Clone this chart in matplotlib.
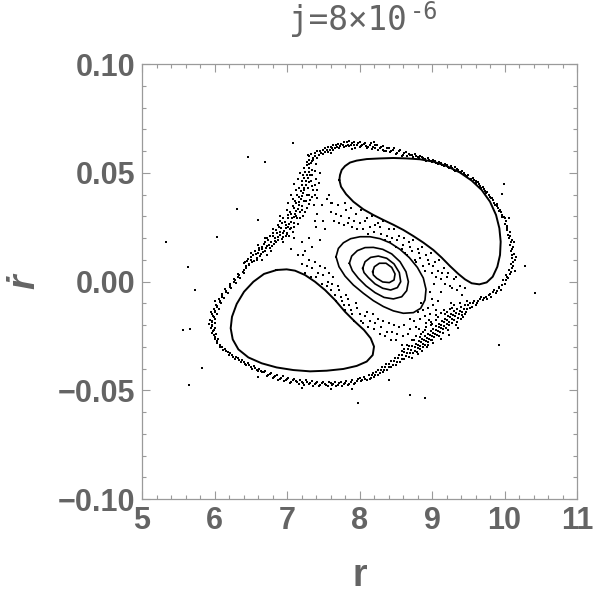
import matplotlib
matplotlib.use('Agg')
import matplotlib.pyplot as plt
from matplotlib.ticker import MultipleLocator, FuncFormatter

GRAY = '#646464'
plt.rcParams['font.family'] = ['Liberation Sans', 'DejaVu Sans']

# --- invariant curves ---
island_up_x = [7.722, 7.731, 7.754, 7.800, 7.869, 7.961, 8.099, 8.283, 8.467, 8.651, 8.835, 9.018, 9.202, 9.386,
               9.547, 9.685, 9.800, 9.883, 9.929, 9.947, 9.938, 9.901, 9.837, 9.754, 9.653, 9.547, 9.455, 9.363,
               9.248, 9.133, 9.018, 8.880, 8.743, 8.605, 8.467, 8.329, 8.191, 8.053, 7.915, 7.814, 7.745, 7.722]
island_up_y = [0.0467, 0.0490, 0.0513, 0.0531, 0.0547, 0.0556, 0.0563, 0.0566, 0.0568, 0.0566, 0.0562, 0.0551,
               0.0531, 0.0501, 0.0464, 0.0421, 0.0367, 0.0306, 0.0245, 0.0183, 0.0122, 0.0068, 0.0022, -0.0004,
               -0.0013, -0.0008, 0.0010, 0.0035, 0.0071, 0.0110, 0.0145, 0.0179, 0.0209, 0.0237, 0.0261, 0.0283,
               0.0306, 0.0332, 0.0367, 0.0402, 0.0436, 0.0467]

island_lo_x = [6.857, 6.995, 7.110, 7.248, 7.386, 7.524, 7.662, 7.800, 7.938, 8.062, 8.154, 8.200, 8.182, 8.099,
               7.961, 7.777, 7.547, 7.317, 7.087, 6.857, 6.651, 6.467, 6.329, 6.251, 6.223, 6.241, 6.306, 6.407,
               6.536, 6.683, 6.857]
island_lo_y = [0.0053, 0.0056, 0.0050, 0.0030, -0.0001, -0.0039, -0.0085, -0.0139, -0.0185, -0.0223, -0.0261,
               -0.0299, -0.0338, -0.0368, -0.0388, -0.0402, -0.0410, -0.0413, -0.0407, -0.0395, -0.0376, -0.0349,
               -0.0312, -0.0266, -0.0215, -0.0162, -0.0103, -0.0047, -0.0001, 0.0035, 0.0053]

ring1_x = [7.676, 7.708, 7.777, 7.878, 8.007, 8.145, 8.283, 8.421, 8.559, 8.687, 8.798, 8.880, 8.917, 8.903,
           8.844, 8.743, 8.605, 8.467, 8.329, 8.191, 8.053, 7.915, 7.800, 7.717, 7.676]
ring1_y = [0.0114, 0.0152, 0.0178, 0.0197, 0.0206, 0.0206, 0.0197, 0.0178, 0.0148, 0.0110, 0.0065, 0.0016,
           -0.0036, -0.0085, -0.0123, -0.0143, -0.0146, -0.0135, -0.0115, -0.0088, -0.0054, -0.0016, 0.0025,
           0.0068, 0.0114]
ring2_x = [7.860, 7.892, 7.970, 8.076, 8.191, 8.320, 8.444, 8.559, 8.641, 8.674, 8.651, 8.582, 8.467, 8.338,
           8.214, 8.090, 7.984, 7.901, 7.860]
ring2_y = [0.0084, 0.0117, 0.0142, 0.0156, 0.0157, 0.0148, 0.0127, 0.0091, 0.0045, -0.0001, -0.0042, -0.0070,
           -0.0080, -0.0073, -0.0051, -0.0020, 0.0015, 0.0050, 0.0084]
ring3_x = [8.044, 8.076, 8.154, 8.260, 8.375, 8.476, 8.549, 8.568, 8.522, 8.430, 8.320, 8.214, 8.122, 8.062, 8.044]
ring3_y = [0.0061, 0.0091, 0.0111, 0.0117, 0.0107, 0.0081, 0.0041, -0.0001, -0.0028, -0.0039, -0.0031, -0.0011,
           0.0018, 0.0041, 0.0061]
ring4_x = [8.182, 8.205, 8.274, 8.366, 8.444, 8.490, 8.476, 8.411, 8.320, 8.237, 8.191, 8.182]
ring4_y = [0.0045, 0.0068, 0.0084, 0.0084, 0.0065, 0.0035, 0.0007, -0.0005, -0.0002, 0.0015, 0.0030, 0.0045]

# --- chaotic sea points ---
sea_top = [(7.30, 0.0575), (7.34, 0.0552), (7.38, 0.0590), (7.42, 0.0570), (7.46, 0.0601), (7.50, 0.0585),
           (7.53, 0.0612), (7.57, 0.0597), (7.61, 0.0620), (7.64, 0.0604), (7.68, 0.0626), (7.72, 0.0612),
           (7.75, 0.0633), (7.79, 0.0618), (7.83, 0.0640), (7.86, 0.0622), (7.90, 0.0635), (7.94, 0.0615),
           (7.98, 0.0638), (8.02, 0.0625), (8.06, 0.0632), (8.10, 0.0612), (8.14, 0.0630), (8.18, 0.0618),
           (8.22, 0.0626), (8.26, 0.0605), (8.30, 0.0620), (8.34, 0.0600), (8.38, 0.0612), (8.42, 0.0595),
           (8.46, 0.0605), (8.50, 0.0585), (8.54, 0.0598), (8.58, 0.0578), (8.62, 0.0590), (8.66, 0.0575),
           (8.70, 0.0582), (8.74, 0.0572), (8.78, 0.0578), (8.82, 0.0568), (8.86, 0.0572), (8.90, 0.0562),
           (8.94, 0.0566), (8.98, 0.0555), (9.02, 0.0560), (9.06, 0.0546), (9.10, 0.0550), (9.14, 0.0536),
           (9.18, 0.0541), (9.22, 0.0526), (9.26, 0.0530), (9.30, 0.0515), (9.34, 0.0519), (9.38, 0.0503),
           (9.42, 0.0506), (9.46, 0.0490), (9.50, 0.0492), (7.60, 0.0590), (7.90, 0.0608), (8.20, 0.0640),
           (7.31, 0.0561), (7.33, 0.0588), (7.36, 0.0570), (7.39, 0.0578), (7.41, 0.0598), (7.44, 0.0582),
           (7.47, 0.0590), (7.49, 0.0607), (7.52, 0.0594), (7.55, 0.0603), (7.56, 0.0618), (7.59, 0.0606),
           (7.62, 0.0612), (7.63, 0.0629), (7.66, 0.0615), (7.69, 0.0619), (7.71, 0.0634), (7.73, 0.0622),
           (7.77, 0.0627), (7.78, 0.0641), (7.81, 0.0624), (7.84, 0.0630), (7.85, 0.0646), (7.88, 0.0628),
           (7.92, 0.0642), (7.93, 0.0626), (7.96, 0.0630), (8.00, 0.0640), (8.01, 0.0617), (8.04, 0.0628),
           (8.08, 0.0638), (8.09, 0.0622), (8.12, 0.0620), (8.16, 0.0636), (8.17, 0.0610), (8.21, 0.0616),
           (8.24, 0.0630), (8.28, 0.0612), (8.32, 0.0625), (8.33, 0.0606), (8.36, 0.0598), (8.40, 0.0616),
           (8.44, 0.0600), (8.48, 0.0612), (8.52, 0.0592), (8.56, 0.0604), (8.60, 0.0583), (8.64, 0.0595),
           (8.68, 0.0588), (8.72, 0.0580), (8.76, 0.0585), (8.80, 0.0574), (8.84, 0.0578), (8.88, 0.0570),
           (8.92, 0.0556), (8.96, 0.0560), (9.00, 0.0548), (9.04, 0.0554), (9.08, 0.0541), (9.12, 0.0546),
           (9.16, 0.0532), (9.20, 0.0535), (9.24, 0.0522), (9.28, 0.0524), (9.32, 0.0510), (9.36, 0.0512),
           (9.40, 0.0500), (9.44, 0.0498), (9.48, 0.0486)]
sea_right = [(9.54, 0.0470), (9.58, 0.0468), (9.61, 0.0454), (9.65, 0.0450), (9.68, 0.0432), (9.72, 0.0425),
             (9.75, 0.0405), (9.78, 0.0400), (9.81, 0.0382), (9.84, 0.0374), (9.87, 0.0352), (9.90, 0.0347),
             (9.92, 0.0326), (9.95, 0.0320), (9.97, 0.0296), (10.00, 0.0290), (10.01, 0.0266), (10.04, 0.0256),
             (10.04, 0.0236), (10.07, 0.0226), (10.06, 0.0200), (10.10, 0.0190), (10.08, 0.0170), (10.12, 0.0160),
             (10.09, 0.0140), (10.13, 0.0128), (10.10, 0.0110), (10.14, 0.0098), (10.09, 0.0082), (10.12, 0.0070),
             (10.06, 0.0055), (10.09, 0.0042), (10.02, 0.0030), (10.05, 0.0015), (9.98, 0.0005), (10.00, -0.0010),
             (9.92, -0.0025), (9.95, -0.0038), (9.86, -0.0040), (9.88, -0.0055), (9.80, -0.0058), (9.82, -0.0070),
             (9.74, -0.0072), (9.70, -0.0085), (9.56, 0.0478), (9.60, 0.0460), (9.63, 0.0457), (9.66, 0.0440),
             (9.70, 0.0436), (9.73, 0.0414), (9.76, 0.0410), (9.80, 0.0390), (9.83, 0.0384), (9.86, 0.0362),
             (9.89, 0.0356), (9.91, 0.0336), (9.94, 0.0330), (9.96, 0.0306), (9.99, 0.0298), (10.02, 0.0276),
             (10.03, 0.0244), (10.05, 0.0212), (10.08, 0.0208), (10.09, 0.0182), (10.11, 0.0150), (10.11, 0.0120),
             (10.12, 0.0088), (10.10, 0.0060), (10.07, 0.0036), (10.04, 0.0022), (10.02, 0.0008), (9.97, -0.0016),
             (9.93, -0.0030), (9.90, -0.0044), (9.84, -0.0050), (9.78, -0.0064), (9.76, -0.0080), (9.72, -0.0078),
             (10.16, 0.0115), (10.15, 0.0050), (10.13, 0.0180), (10.06, 0.0290)]
sea_lower_right = [(9.66, -0.0080), (9.62, -0.0100), (9.58, -0.0088), (9.55, -0.0115), (9.52, -0.0100),
                   (9.48, -0.0128), (9.45, -0.0110), (9.42, -0.0140), (9.40, -0.0118), (9.37, -0.0150),
                   (9.35, -0.0125), (9.32, -0.0160), (9.30, -0.0135), (9.28, -0.0172), (9.26, -0.0148),
                   (9.24, -0.0185), (9.22, -0.0158), (9.20, -0.0195), (9.18, -0.0170), (9.16, -0.0205),
                   (9.14, -0.0182), (9.12, -0.0215), (9.10, -0.0195), (9.08, -0.0228), (9.06, -0.0205),
                   (9.04, -0.0240), (9.02, -0.0218), (9.00, -0.0250), (8.98, -0.0228), (8.96, -0.0262),
                   (8.94, -0.0240), (8.92, -0.0272), (8.90, -0.0250), (8.88, -0.0285), (8.86, -0.0262),
                   (8.84, -0.0295), (8.82, -0.0275), (8.80, -0.0305), (8.78, -0.0285), (8.76, -0.0318),
                   (8.73, -0.0298), (8.70, -0.0330), (8.67, -0.0312), (8.64, -0.0342), (8.61, -0.0325),
                   (8.58, -0.0355), (8.55, -0.0338), (8.52, -0.0368), (8.49, -0.0352), (8.46, -0.0382),
                   (8.43, -0.0365), (8.40, -0.0395), (8.37, -0.0380), (8.34, -0.0408), (8.31, -0.0395),
                   (8.28, -0.0420), (8.25, -0.0408), (8.22, -0.0432), (8.19, -0.0420), (8.16, -0.0442),
                   (8.13, -0.0430), (9.35, -0.0185), (9.25, -0.0125), (9.15, -0.0235), (9.05, -0.0175),
                   (8.95, -0.0290), (8.90, -0.0225), (9.30, -0.0110), (9.10, -0.0250), (8.98, -0.0200),
                   (9.20, -0.0140), (8.85, -0.0240), (9.40, -0.0170), (8.75, -0.0270), (9.00, -0.0270),
                   (9.45, -0.0150), (9.68, -0.0070), (9.64, -0.0088), (9.60, -0.0110), (9.57, -0.0098),
                   (9.53, -0.0122), (9.50, -0.0110), (9.47, -0.0140), (9.44, -0.0125), (9.41, -0.0155),
                   (9.38, -0.0135), (9.36, -0.0168), (9.33, -0.0145), (9.31, -0.0178), (9.29, -0.0155),
                   (9.27, -0.0190), (9.25, -0.0165), (9.23, -0.0200), (9.21, -0.0175), (9.19, -0.0212),
                   (9.17, -0.0188), (9.15, -0.0220), (9.13, -0.0198), (9.11, -0.0232), (9.09, -0.0210),
                   (9.07, -0.0245), (9.05, -0.0222), (9.03, -0.0255), (9.01, -0.0235), (8.99, -0.0268),
                   (8.97, -0.0245), (8.95, -0.0278), (8.93, -0.0258), (8.91, -0.0290), (8.89, -0.0268),
                   (8.87, -0.0300), (8.85, -0.0280), (8.83, -0.0312), (8.81, -0.0290), (8.79, -0.0322),
                   (8.77, -0.0300), (8.74, -0.0330), (8.71, -0.0315), (8.68, -0.0345), (8.65, -0.0328),
                   (8.62, -0.0358), (8.59, -0.0340), (8.56, -0.0370), (8.53, -0.0352), (8.50, -0.0382),
                   (8.47, -0.0366), (8.44, -0.0394), (8.41, -0.0378), (8.38, -0.0406), (8.35, -0.0392),
                   (8.32, -0.0418), (8.29, -0.0405), (8.26, -0.0428), (8.23, -0.0418), (8.20, -0.0440),
                   (8.17, -0.0430), (8.14, -0.0448), (9.38, -0.0100), (9.33, -0.0200), (9.28, -0.0120),
                   (9.22, -0.0225), (9.18, -0.0150), (9.12, -0.0262), (9.08, -0.0165), (9.02, -0.0282),
                   (8.98, -0.0185), (8.93, -0.0302), (8.92, -0.0210), (8.86, -0.0318), (8.87, -0.0230),
                   (8.80, -0.0335), (8.83, -0.0255), (8.72, -0.0350), (9.26, -0.0100), (9.16, -0.0130),
                   (9.06, -0.0155), (8.96, -0.0175), (9.48, -0.0090), (9.43, -0.0165), (9.36, -0.0215),
                   (9.24, -0.0245), (9.12, -0.0145), (9.00, -0.0195), (8.78, -0.0250), (8.68, -0.0295),
                   (8.62, -0.0310), (8.58, -0.0320)]
sea_bottom = [(8.10, -0.0452), (8.06, -0.0440), (8.02, -0.0458), (7.98, -0.0448), (7.94, -0.0465), (7.90, -0.0452),
              (7.86, -0.0470), (7.82, -0.0458), (7.78, -0.0472), (7.74, -0.0460), (7.70, -0.0475), (7.66, -0.0462),
              (7.62, -0.0476), (7.58, -0.0460), (7.54, -0.0474), (7.50, -0.0462), (7.46, -0.0476), (7.42, -0.0460),
              (7.38, -0.0472), (7.34, -0.0458), (7.30, -0.0470), (7.26, -0.0455), (7.22, -0.0468), (7.18, -0.0452),
              (7.14, -0.0464), (7.10, -0.0448), (7.06, -0.0460), (7.02, -0.0442), (6.98, -0.0452), (6.94, -0.0436),
              (6.90, -0.0446), (6.86, -0.0428), (6.82, -0.0438), (6.78, -0.0420), (6.74, -0.0428), (6.70, -0.0410),
              (6.66, -0.0418), (6.62, -0.0400), (6.58, -0.0405), (6.54, -0.0388), (6.50, -0.0392), (6.46, -0.0375),
              (6.42, -0.0378), (6.38, -0.0360), (6.34, -0.0362), (6.30, -0.0345), (6.26, -0.0345), (6.22, -0.0328),
              (6.18, -0.0325), (6.14, -0.0308), (6.11, -0.0300), (8.08, -0.0447), (8.04, -0.0452), (8.00, -0.0445),
              (7.96, -0.0458), (7.92, -0.0470), (7.88, -0.0462), (7.84, -0.0475), (7.80, -0.0465), (7.76, -0.0480),
              (7.72, -0.0468), (7.68, -0.0482), (7.64, -0.0470), (7.60, -0.0465), (7.56, -0.0481), (7.52, -0.0470),
              (7.48, -0.0468), (7.44, -0.0482), (7.40, -0.0468), (7.36, -0.0480), (7.32, -0.0465), (7.28, -0.0462),
              (7.24, -0.0476), (7.20, -0.0460), (7.16, -0.0472), (7.12, -0.0456), (7.08, -0.0452), (7.04, -0.0466),
              (7.00, -0.0448), (6.96, -0.0458), (6.92, -0.0442), (6.88, -0.0452), (6.84, -0.0434), (6.80, -0.0445),
              (6.76, -0.0426), (6.72, -0.0435), (6.68, -0.0416), (6.64, -0.0410), (6.60, -0.0412), (6.56, -0.0396),
              (6.52, -0.0400), (6.48, -0.0384), (6.44, -0.0386), (6.40, -0.0368), (6.36, -0.0370), (6.32, -0.0352),
              (6.28, -0.0355), (6.24, -0.0336), (6.20, -0.0336), (6.16, -0.0318), (6.12, -0.0315), (7.60, -0.0495),
              (7.20, -0.0490), (6.60, -0.0440), (7.90, -0.0492), (8.40, -0.0455)]
sea_left = [(6.08, -0.0290), (6.04, -0.0282), (6.05, -0.0265), (6.00, -0.0255), (6.02, -0.0240), (5.98, -0.0228),
            (6.01, -0.0215), (5.97, -0.0205), (6.01, -0.0192), (5.97, -0.0182), (6.01, -0.0170), (5.98, -0.0158),
            (6.03, -0.0148), (6.00, -0.0135), (6.06, -0.0125), (6.03, -0.0112), (6.09, -0.0100), (6.07, -0.0088),
            (6.13, -0.0078), (6.11, -0.0065), (6.18, -0.0055), (6.16, -0.0042), (6.23, -0.0032), (6.22, -0.0018),
            (6.29, -0.0008), (6.28, 0.0005), (6.35, 0.0015), (6.34, 0.0028), (6.41, 0.0038), (6.40, 0.0052),
            (6.07, -0.0300), (6.03, -0.0272), (6.01, -0.0262), (5.99, -0.0245), (5.96, -0.0236), (5.99, -0.0222),
            (5.95, -0.0212), (5.97, -0.0198), (5.96, -0.0188), (5.94, -0.0175), (5.99, -0.0162), (5.96, -0.0150),
            (6.01, -0.0140), (5.99, -0.0128), (6.04, -0.0118), (6.02, -0.0106), (6.07, -0.0094), (6.06, -0.0080),
            (6.11, -0.0070), (6.10, -0.0058), (6.16, -0.0048), (6.15, -0.0035), (6.21, -0.0025), (6.21, -0.0010),
            (6.27, 0.0000), (6.27, 0.0012), (6.33, 0.0022), (6.33, 0.0035), (6.39, 0.0045), (6.43, 0.0060),
            (5.93, -0.0195), (5.95, -0.0140), (6.00, -0.0090)]
sea_upper_left = [(6.44, 0.0070), (6.42, 0.0090), (6.48, 0.0082), (6.50, 0.0100), (6.46, 0.0105), (6.55, 0.0095),
                  (6.53, 0.0120), (6.58, 0.0110), (6.60, 0.0132), (6.56, 0.0140), (6.64, 0.0125), (6.66, 0.0148),
                  (6.62, 0.0155), (6.70, 0.0140), (6.72, 0.0165), (6.68, 0.0172), (6.76, 0.0155), (6.78, 0.0180),
                  (6.74, 0.0190), (6.82, 0.0172), (6.84, 0.0198), (6.80, 0.0208), (6.88, 0.0190), (6.90, 0.0215),
                  (6.86, 0.0225), (6.94, 0.0205), (6.96, 0.0232), (6.92, 0.0245), (7.00, 0.0225), (7.02, 0.0252),
                  (6.98, 0.0262), (7.06, 0.0248), (7.05, 0.0275), (7.02, 0.0290), (7.10, 0.0268), (7.09, 0.0298),
                  (7.06, 0.0312), (7.14, 0.0292), (7.13, 0.0322), (7.10, 0.0338), (7.18, 0.0320), (7.16, 0.0350),
                  (7.13, 0.0362), (7.21, 0.0345), (7.19, 0.0378), (7.16, 0.0390), (7.24, 0.0372), (7.22, 0.0405),
                  (7.19, 0.0418), (7.27, 0.0400), (7.24, 0.0432), (7.21, 0.0445), (7.29, 0.0430), (7.26, 0.0462),
                  (7.23, 0.0475), (7.31, 0.0458), (7.28, 0.0490), (7.25, 0.0502), (7.32, 0.0488), (7.30, 0.0520),
                  (7.27, 0.0535), (7.34, 0.0515), (7.33, 0.0545), (7.35, 0.0440), (7.38, 0.0400), (7.32, 0.0375),
                  (7.28, 0.0340), (7.22, 0.0300), (7.15, 0.0265), (7.08, 0.0230), (7.40, 0.0470), (7.37, 0.0350),
                  (7.42, 0.0420), (7.12, 0.0420), (7.08, 0.0380), (7.00, 0.0330), (6.95, 0.0290), (6.88, 0.0260),
                  (6.40, 0.0085), (6.45, 0.0095), (6.47, 0.0075), (6.51, 0.0112), (6.52, 0.0088), (6.57, 0.0125),
                  (6.59, 0.0100), (6.61, 0.0145), (6.63, 0.0118), (6.65, 0.0160), (6.67, 0.0135), (6.69, 0.0180),
                  (6.71, 0.0152), (6.73, 0.0200), (6.75, 0.0170), (6.77, 0.0210), (6.79, 0.0165), (6.81, 0.0222),
                  (6.83, 0.0185), (6.85, 0.0235), (6.87, 0.0205), (6.89, 0.0250), (6.91, 0.0228), (6.93, 0.0268),
                  (6.95, 0.0222), (6.97, 0.0275), (6.99, 0.0245), (7.01, 0.0305), (7.03, 0.0265), (7.04, 0.0320),
                  (7.07, 0.0290), (7.08, 0.0345), (7.11, 0.0310), (7.11, 0.0372), (7.15, 0.0335), (7.14, 0.0400),
                  (7.17, 0.0365), (7.17, 0.0430), (7.20, 0.0392), (7.20, 0.0460), (7.23, 0.0420), (7.22, 0.0490),
                  (7.26, 0.0445), (7.24, 0.0520), (7.29, 0.0475), (7.27, 0.0550), (7.31, 0.0505), (7.30, 0.0540),
                  (7.35, 0.0490), (7.33, 0.0460), (7.36, 0.0420), (7.34, 0.0390), (7.30, 0.0400), (7.31, 0.0355),
                  (7.26, 0.0370), (7.25, 0.0320), (7.20, 0.0330), (7.18, 0.0290), (7.12, 0.0300), (7.10, 0.0250),
                  (7.04, 0.0240), (7.03, 0.0210), (6.98, 0.0210), (6.93, 0.0195), (6.85, 0.0180), (6.78, 0.0140),
                  (6.72, 0.0120), (6.65, 0.0100), (7.39, 0.0445), (7.41, 0.0385), (7.44, 0.0455), (7.45, 0.0500),
                  (7.38, 0.0510), (7.40, 0.0540), (7.36, 0.0560), (7.29, 0.0580), (7.18, 0.0500), (7.15, 0.0470),
                  (7.10, 0.0450), (7.05, 0.0400), (7.02, 0.0360), (6.90, 0.0280), (6.80, 0.0240), (6.70, 0.0200),
                  (6.60, 0.0170), (6.50, 0.0130)]
sea_inner = [(7.60, 0.032), (7.65, 0.028), (7.70, 0.035), (7.75, 0.030), (7.78, 0.026), (7.82, 0.033), (7.86, 0.029),
             (7.90, 0.025), (7.95, 0.031), (8.00, 0.027), (8.05, 0.024), (8.10, 0.029), (8.15, 0.025), (8.20, 0.023),
             (8.25, 0.027), (8.30, 0.022), (8.35, 0.019), (8.40, 0.024), (8.45, 0.020), (8.50, 0.016), (8.55, 0.021),
             (8.60, 0.017), (8.63, 0.013), (8.68, 0.018), (8.72, 0.014), (8.76, 0.010), (8.80, 0.015), (8.84, 0.011),
             (8.88, 0.007), (8.92, 0.012), (8.96, 0.008), (9.00, 0.004), (9.04, 0.009), (9.08, 0.005), (9.12, 0.001),
             (9.16, 0.006), (9.20, 0.002), (9.25, -0.002), (9.30, 0.001), (9.35, -0.004),
             (7.20, 0.008), (7.25, 0.004), (7.30, 0.010), (7.35, 0.006), (7.40, 0.002), (7.45, 0.007), (7.50, 0.003),
             (7.55, -0.002), (7.58, 0.004), (7.62, -0.001), (7.66, -0.006), (7.70, -0.002), (7.74, -0.007),
             (7.78, -0.011), (7.82, -0.006), (7.86, -0.011), (7.90, -0.015), (7.95, -0.010), (8.00, -0.015),
             (8.05, -0.019), (8.10, -0.014), (8.15, -0.018), (8.20, -0.022), (8.25, -0.017), (8.30, -0.021),
             (8.35, -0.025), (8.40, -0.019), (8.45, -0.023), (8.50, -0.027), (8.55, -0.021), (8.60, -0.025),
             (8.65, -0.029), (8.70, -0.022), (8.75, -0.018), (8.80, -0.014), (8.85, -0.010), (8.90, -0.016),
             (8.95, -0.012), (9.00, -0.008), (9.05, -0.013), (8.82, -0.022), (8.70, -0.017),
             (6.90, 0.030), (6.95, 0.018), (7.00, 0.022), (7.05, 0.015), (7.10, 0.020), (7.15, 0.012), (7.20, 0.018),
             (7.25, 0.014), (7.30, 0.020), (7.35, 0.016), (7.40, 0.025), (7.45, 0.019), (7.50, 0.028), (7.42, 0.031),
             (7.48, 0.035), (7.55, 0.038), (7.52, 0.024), (7.58, 0.040), (7.38, 0.028), (7.60, 0.036),
             (7.62, 0.036), (7.68, 0.031), (7.72, 0.027), (7.80, 0.036), (7.84, 0.027), (7.88, 0.034), (7.93, 0.028),
             (7.97, 0.024), (8.02, 0.033), (8.07, 0.028), (8.12, 0.022), (8.17, 0.030), (8.22, 0.026), (8.28, 0.025),
             (8.32, 0.028), (8.38, 0.021), (8.42, 0.018), (8.47, 0.024), (8.52, 0.019), (8.58, 0.015), (8.62, 0.020),
             (8.66, 0.012), (8.70, 0.016), (8.74, 0.019), (8.78, 0.009), (8.82, 0.013), (8.86, 0.016), (8.90, 0.005),
             (8.94, 0.010), (8.98, 0.013), (9.02, 0.007), (9.06, 0.002), (9.10, 0.010), (9.14, 0.004), (9.18, -0.001),
             (9.22, 0.004), (9.28, -0.003), (9.33, 0.002), (9.38, -0.002), (9.42, -0.006), (9.46, -0.003),
             (7.22, 0.012), (7.28, 0.007), (7.33, 0.002), (7.38, 0.009), (7.43, 0.004), (7.48, -0.001), (7.52, 0.006),
             (7.57, 0.000), (7.60, -0.004), (7.64, 0.002), (7.68, -0.009), (7.72, -0.004), (7.76, -0.009),
             (7.80, -0.013), (7.84, -0.008), (7.88, -0.013), (7.92, -0.018), (7.97, -0.012), (8.02, -0.018),
             (8.07, -0.016), (8.12, -0.021), (8.18, -0.015), (8.22, -0.019), (8.28, -0.024), (8.32, -0.018),
             (8.38, -0.023), (8.43, -0.027), (8.48, -0.020), (8.52, -0.024), (8.58, -0.029), (8.62, -0.020),
             (8.67, -0.024), (8.72, -0.027), (8.78, -0.021), (8.83, -0.017), (8.88, -0.013), (8.92, -0.019),
             (8.97, -0.015), (9.02, -0.011), (9.08, -0.009), (9.12, -0.005), (8.97, -0.005), (9.03, -0.001)]
sea_stray = [(7.078, 0.0638), (6.467, 0.0574), (6.697, 0.0551), (6.306, 0.0333), (6.039, 0.0206), (5.331, 0.0183),
             (5.639, 0.0068), (5.731, -0.0039), (5.570, -0.0223), (5.662, -0.0220), (5.823, -0.0399),
             (5.653, -0.0476), (7.984, -0.0557), (8.697, -0.0522), (8.903, -0.0537), (9.929, -0.0292),
             (10.421, -0.0054), (10.283, 0.0071), (9.993, 0.0448), (9.961, 0.0402), (9.317, 0.0528), (6.605, 0.0283)]

x_ticks = [5, 6, 7, 8, 9, 10, 11]
y_ticks = [-0.10, -0.05, 0.00, 0.05, 0.10]

fig = plt.figure(figsize=(5.99, 5.94), dpi=100)
ax = fig.add_axes([0.2371, 0.1599, 0.7262, 0.7323])

for sea in [sea_top, sea_right, sea_lower_right, sea_bottom, sea_left, sea_upper_left, sea_inner, sea_stray]:
    xs = [p[0] for p in sea]
    ys = [p[1] for p in sea]
    ax.plot(xs, ys, 's', ms=1.8, mew=0, color='k')

for cx, cy in [(island_up_x, island_up_y), (island_lo_x, island_lo_y)]:
    ax.plot(cx, cy, '-', color='k', lw=1.4, solid_joinstyle='round')
for cx, cy in [(ring1_x, ring1_y), (ring2_x, ring2_y), (ring3_x, ring3_y), (ring4_x, ring4_y)]:
    ax.plot(cx, cy, '-', color='k', lw=1.2, solid_joinstyle='round')

ax.set_xlim(5, 11)
ax.set_ylim(-0.1, 0.1)
ax.set_xticks(x_ticks)
ax.set_yticks(y_ticks)
ax.xaxis.set_minor_locator(MultipleLocator(0.2))
ax.yaxis.set_minor_locator(MultipleLocator(0.01))
ax.yaxis.set_major_formatter(FuncFormatter(lambda v, p: ('%.2f' % v).replace('-', '\u2212') if abs(v) > 1e-9 else '0.00'))
ax.tick_params(which='both', direction='in', top=True, right=True, color='#9a9a9a', width=0.8)
ax.tick_params(which='major', length=5.5, labelsize=22, labelcolor=GRAY, pad=5)
ax.tick_params(which='minor', length=2.8)
for lab in ax.get_xticklabels() + ax.get_yticklabels():
    lab.set_fontweight('bold')
for s in ax.spines.values():
    s.set_color('#9a9a9a')
    s.set_linewidth(0.9)

fig.text(359.5 / 599, 1 - 576 / 594, 'r', ha='center', va='center', fontsize=27, fontweight='bold', color=GRAY)
fig.text(24 / 599, 1 - 282 / 594, '\u1e59', ha='center', va='center', rotation=90, fontsize=27,
         fontweight='bold', fontstyle='italic', color=GRAY)
fig.text(407 / 599, 1 - 30 / 594, 'j=8\u00d710', ha='right', va='baseline', fontsize=23.5,
         family='DejaVu Sans Mono', color=GRAY)
fig.text(410 / 599, 1 - 19 / 594, '-6', ha='left', va='baseline', fontsize=17,
         family='DejaVu Sans Mono', color=GRAY)

fig.savefig('out.png', dpi=100)
